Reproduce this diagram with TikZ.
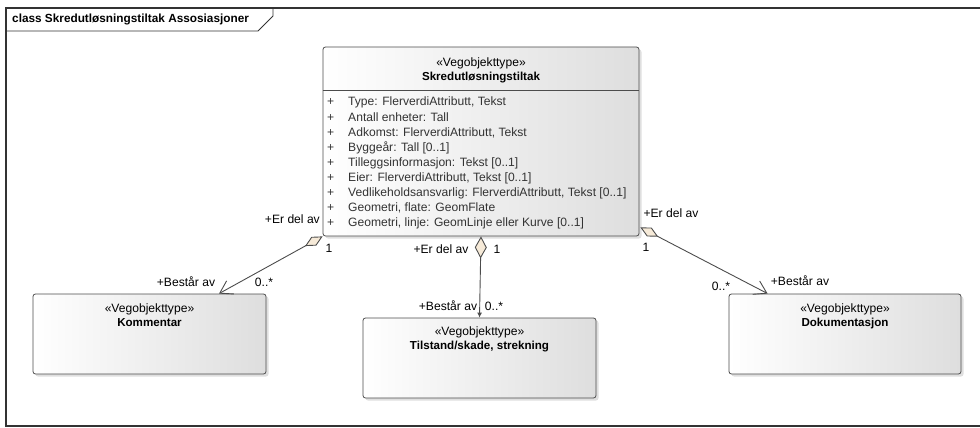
\documentclass[tikz,border=0pt]{standalone}
\usepackage{fontspec}
\setmainfont{Liberation Sans}
\usepackage{xcolor}
\usepackage{tikz}
\usetikzlibrary{arrows.meta,positioning,shadows,calc}
\definecolor{dfill}{RGB}{246,234,216}

\begin{document}
\begin{tikzpicture}[x=1pt,y=-1pt,thin,font=\fontsize{12.1}{14}\selectfont]
            \tikzset{vbox/.style={draw=black!70, line width=0.8pt, rounded corners=2.5pt, left color=white, right color=black!13, drop shadow={shadow xshift=2.5pt, shadow yshift=-2.5pt, opacity=0.25}, inner sep=0pt},
                     lbl/.style={inner sep=0pt},
                     assoc/.style={draw=black!70, line width=0.9pt}}
            \useasboundingbox (0,0) rectangle (980,428);
            \draw[black!80, line width=1.2pt] (990,8) -- (6,8) -- (6,426) -- (990,426);
            \draw[black!80, line width=0.8pt] (6,31) -- (258,31) -- (273,16) -- (273,8);
            \node[lbl, anchor=west, font=\fontsize{11.8}{14}\selectfont\bfseries] (F) at (12,19) {class Skredutløsningstiltak Assosiasjoner};
            \node[vbox, minimum width=316pt, minimum height=189pt] (S) at (481,141.5) {};
            \draw[black!70, line width=0.8pt] ([yshift=-44pt]S.north west) -- ([yshift=-44pt]S.north east);
            \node[lbl, align=center, below=10.5pt of S.north] (S1) {«Vegobjekttype»\\\fontsize{11.6}{14}\selectfont\bfseries Skredutløsningstiltak};
            \foreach \a [count=\i from 0] in {{Type: FlerverdiAttributt, Tekst}, {Antall enheter: Tall}, {Adkomst: FlerverdiAttributt, Tekst}, {Byggeår: Tall [0..1]}, {Tilleggsinformasjon: Tekst [0..1]}, {Eier: FlerverdiAttributt, Tekst [0..1]}, {Vedlikeholdsansvarlig: FlerverdiAttributt, Tekst [0..1]}, {Geometri, flate: GeomFlate}, {Geometri, linje: GeomLinje eller Kurve [0..1]}} {
                \node[lbl, anchor=base west, text=black!80] (P\i) at (327,{106+15.1*\i}) {+};
                \node[lbl, anchor=base west, text=black!80] (A\i) at (348,{106+15.1*\i}) {\a};
            }
            \node[vbox, minimum width=233pt, minimum height=80pt] (K) at (149.5,334) {};
            \node[lbl, align=center, below=9.5pt of K.north] (K1) {«Vegobjekttype»\\\fontsize{11.6}{14}\selectfont\bfseries Kommentar};
            \node[vbox, minimum width=233pt, minimum height=80pt] (T) at (479.5,358) {};
            \node[lbl, align=center, below=8.5pt of T.north] (T1) {«Vegobjekttype»\\\fontsize{11.6}{14}\selectfont\bfseries Tilstand/skade, strekning};
            \node[vbox, minimum width=232pt, minimum height=80pt] (D) at (845,334) {};
            \node[lbl, align=center, below=9.5pt of D.north] (D1) {«Vegobjekttype»\\\fontsize{11.6}{14}\selectfont\bfseries Dokumentasjon};
            \draw[assoc, {Diamond[length=20pt,width=10pt,fill=dfill]}-{Straight Barb[length=12pt,width=15pt]}] (S.south west) -- ($(K.north)+(69.5,0)$);
            \draw[assoc, {Diamond[length=22pt,width=12pt,fill=dfill]}-{Latex[length=5pt,width=5pt]}] (S.south) -- (T.north);
            \draw[assoc, {Diamond[length=20pt,width=10pt,fill=dfill]}-{Straight Barb[length=12pt,width=15pt]}] ($(S.south east)+(1,-9)$) -- ($(D.north west)+(39,0)$);
            \node[lbl, anchor=east] (L1) at (320,219) {+Er del av};
            \node[lbl] (L2) at (329,248) {1};
            \node[lbl] (L3) at (186,282) {+Består av};
            \node[lbl] (L4) at (264,282) {0..*};
            \node[lbl] (M1) at (441,249) {+Er del av};
            \node[lbl] (M2) at (497,249) {1};
            \node[lbl] (M3) at (448,306) {+Består av};
            \node[lbl] (M4) at (494,306) {0..*};
            \node[lbl] (R1) at (671,213) {+Er del av};
            \node[lbl] (R2) at (646,247) {1};
            \node[lbl] (R3) at (800,281) {+Består av};
            \node[lbl] (R4) at (721,286) {0..*};
        \end{tikzpicture}
\end{document}
